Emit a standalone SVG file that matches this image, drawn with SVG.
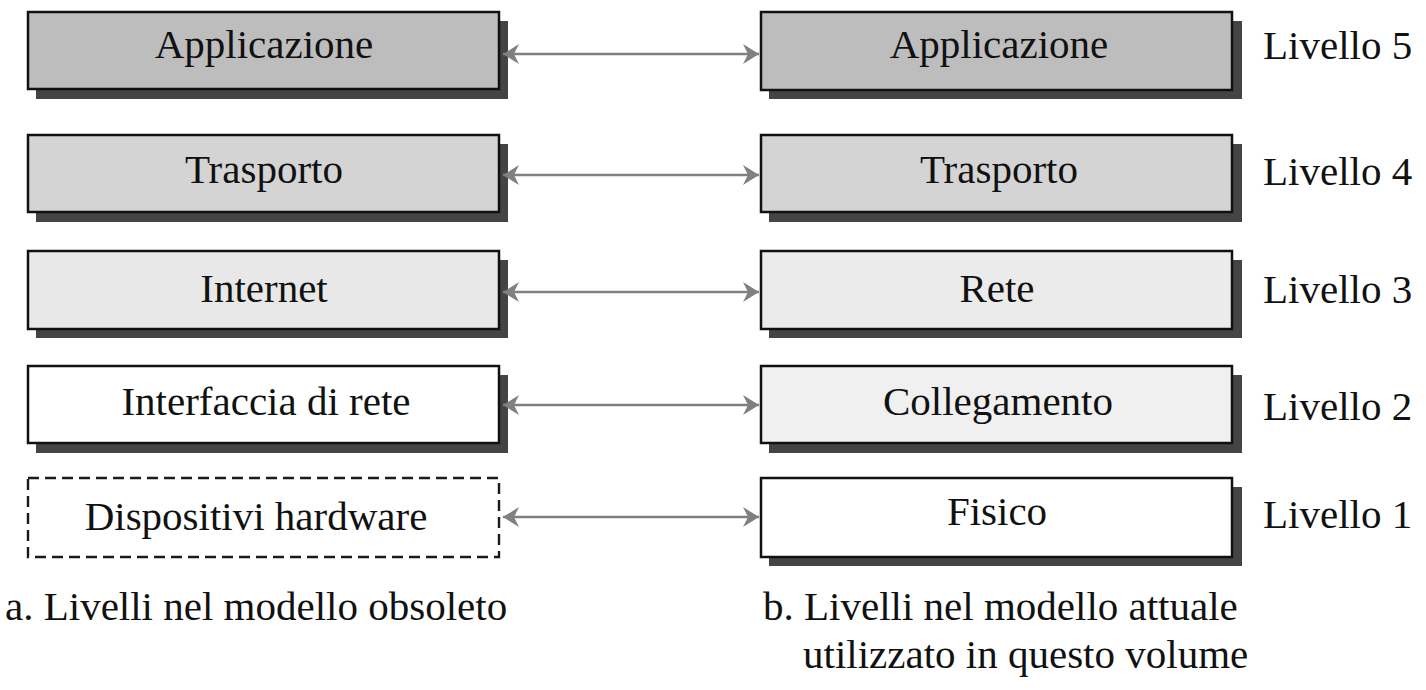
<svg xmlns="http://www.w3.org/2000/svg" width="1426" height="690" viewBox="0 0 1426 690">
<defs>
<style>
.box{stroke:#111;stroke-width:2.5}
.sh{fill:#444}
.t{font-family:"Liberation Serif","Times New Roman",serif;font-size:41px;fill:#111}
.c{text-anchor:middle}
.con{stroke:#808080;stroke-width:2.5;fill:none;marker-start:url(#ah);marker-end:url(#ah)}
.dash{fill:#fff;stroke:#1a1a1a;stroke-width:2.4;stroke-dasharray:11 6}
</style>
<marker id="ah" viewBox="-18 -11 20 22" refX="0" refY="0" markerWidth="20" markerHeight="22" markerUnits="userSpaceOnUse" orient="auto-start-reverse">
<path d="M0,0 L-16,-10 L-11,0 L-16,10 Z" fill="#808080"/>
</marker>
</defs>
<rect width="1426" height="690" fill="#fff"/>

<g id="l-applicazione">
<rect class="sh" x="36" y="21" width="472" height="78"/>
<rect class="box" x="28" y="12" width="471" height="77" fill="#bdbdbd"/>
<text class="t c" x="264" y="58">Applicazione</text>
</g>
<g id="l-trasporto">
<rect class="sh" x="36" y="144" width="472" height="78"/>
<rect class="box" x="28" y="135" width="471" height="77" fill="#d4d4d4"/>
<text class="t c" x="264" y="183">Trasporto</text>
</g>
<g id="l-internet">
<rect class="sh" x="36" y="260" width="472" height="78"/>
<rect class="box" x="28" y="251" width="471" height="78" fill="#e8e8e8"/>
<text class="t c" x="264" y="302">Internet</text>
</g>
<g id="l-interfaccia">
<rect class="sh" x="36" y="375" width="472" height="78"/>
<rect class="box" x="28" y="366" width="471" height="77" fill="#fff"/>
<text class="t c" x="266" y="415">Interfaccia di rete</text>
</g>
<g id="l-dispositivi">
<rect class="dash" x="28" y="478" width="471" height="79"/>
<text class="t c" x="256" y="530">Dispositivi hardware</text>
</g>

<g id="r-applicazione">
<rect class="sh" x="769" y="21" width="473" height="78"/>
<rect class="box" x="761" y="12" width="471" height="78" fill="#bdbdbd"/>
<text class="t c" x="999" y="58">Applicazione</text>
</g>
<g id="r-trasporto">
<rect class="sh" x="769" y="144" width="473" height="78"/>
<rect class="box" x="761" y="135" width="471" height="77" fill="#d4d4d4"/>
<text class="t c" x="999" y="183">Trasporto</text>
</g>
<g id="r-rete">
<rect class="sh" x="769" y="260" width="473" height="78"/>
<rect class="box" x="761" y="251" width="471" height="78" fill="#ebebeb"/>
<text class="t c" x="997" y="302">Rete</text>
</g>
<g id="r-collegamento">
<rect class="sh" x="769" y="375" width="473" height="78"/>
<rect class="box" x="761" y="366" width="471" height="77" fill="#f0f0f0"/>
<text class="t c" x="998" y="415">Collegamento</text>
</g>
<g id="r-fisico">
<rect class="sh" x="769" y="487" width="473" height="79"/>
<rect class="box" x="761" y="478" width="471" height="79" fill="#fff"/>
<text class="t c" x="997" y="525">Fisico</text>
</g>

<g id="livelli">
<text class="t" x="1263" y="59">Livello 5</text>
<text class="t" x="1263" y="185">Livello 4</text>
<text class="t" x="1263" y="303">Livello 3</text>
<text class="t" x="1263" y="420">Livello 2</text>
<text class="t" x="1263" y="528">Livello 1</text>
</g>

<g id="connectors">
<line class="con" x1="503" y1="54" x2="759" y2="54"/>
<line class="con" x1="503" y1="175" x2="759" y2="175"/>
<line class="con" x1="503" y1="292" x2="759" y2="292"/>
<line class="con" x1="503" y1="405" x2="759" y2="405"/>
<line class="con" x1="503" y1="517" x2="759" y2="517"/>
</g>

<g id="captions">
<text class="t" x="5" y="620">a. Livelli nel modello obsoleto</text>
<text class="t" x="763" y="620">b. Livelli nel modello attuale</text>
<text class="t" x="803" y="668">utilizzato in questo volume</text>
</g>
</svg>
